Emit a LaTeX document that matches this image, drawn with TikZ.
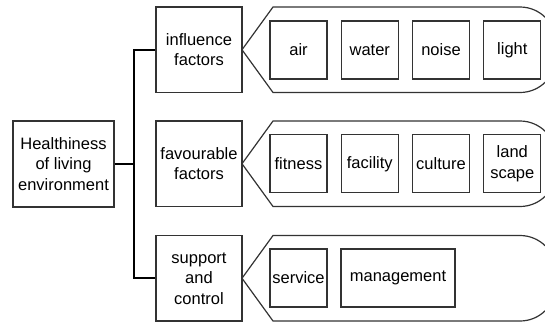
\documentclass[tikz,border=0pt]{standalone}
\usepackage{fontspec}
\setmainfont{Liberation Sans}
\definecolor{linec}{HTML}{333333}
\begin{document}
\begin{tikzpicture}[x=1pt,y=-1pt,
  box/.style={draw=linec,line width=1.2pt,inner sep=0pt,align=center,
    font=\fontsize{16.5}{20.5}\selectfont,text=black},
  rootbox/.style={box,minimum width=101pt,minimum height=86pt},
  midbox/.style={box,minimum width=86pt,minimum height=85.5pt},
  itembox/.style={box,minimum width=57pt,minimum height=58pt},
  widebox/.style={box,minimum width=114pt,minimum height=58pt},
  trunk/.style={draw=black,line width=2.4pt},
  bracket/.style={draw=linec,line width=1.2pt}]
\useasboundingbox (0,0) rectangle (545,322);
\clip (0,0) rectangle (545,322);
% brackets
\foreach \cy in {49.75,163.75,278.25}{
  \draw[bracket] (242,\cy) -- (273,\cy-42.75) -- (520,\cy-42.75)
    arc(-90:0:36) -- (556,\cy+42.75-36) arc(0:90:36) -- (273,\cy+42.75) -- cycle;
}
\node[rootbox] (root) at (63.5,164) {Healthiness\\of living\\environment};
\node[midbox] (m1) at (199,49.75) {influence\\factors};
\node[midbox] (m2) at (199,163.75) {favourable\\factors};
\node[midbox] (m3) at (199,278.25) {support\\and\\control};
\node[itembox] (a1) at (298.5,50) {air};
\node[itembox] (a2) at (369.8,50) {water};
\node[itembox] (a3) at (441,50) {noise};
\node[itembox] (a4) at (512.3,50) {light};
\node[itembox] (b1) at (298.5,163.75) {fitness};
\node[itembox] (b2) at (369.8,163.75) {facility};
\node[itembox] (b3) at (441,163.75) {culture};
\node[itembox] (b4) at (512.3,163.75) {land\\scape};
\node[itembox] (c1) at (298.5,278) {service};
\node[widebox] (c2) at (398,278) {management};
\coordinate (j) at (134,164);
\draw[trunk] (root.east) -- (j);
\draw[trunk,line join=miter] (m1.west) -| (j) |- (m3.west);
\end{tikzpicture}
\end{document}
